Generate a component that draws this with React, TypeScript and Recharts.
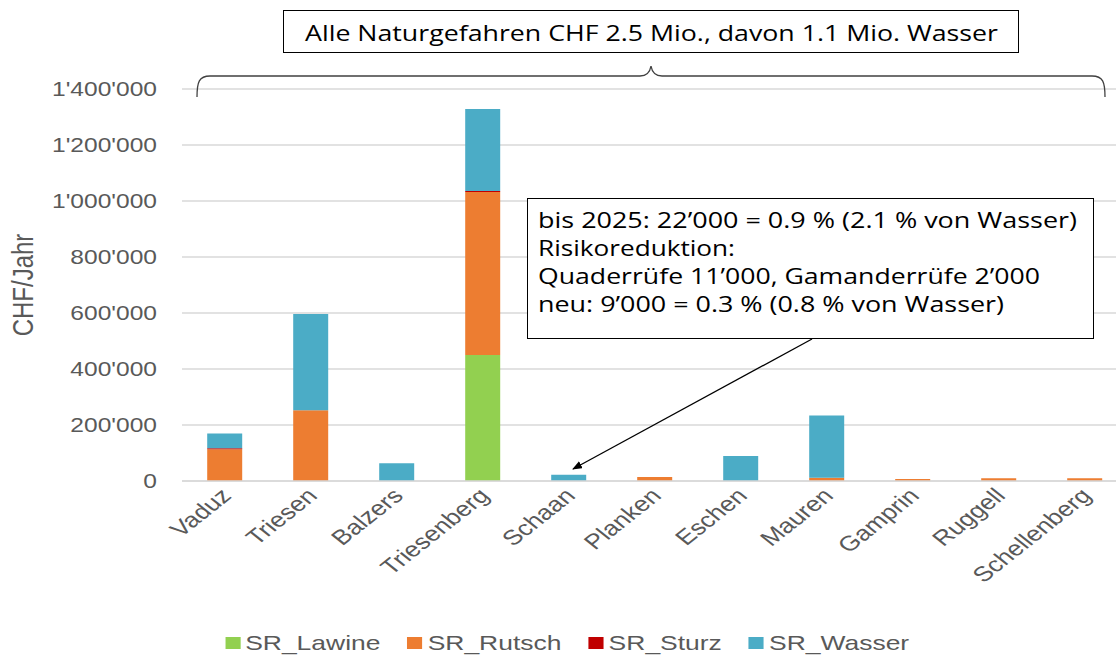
import { BarChart, Bar, XAxis, YAxis, CartesianGrid } from 'recharts';

// horizontal stretch of the original screenshot
const S = 1.26;

const gemeinden = ['Vaduz', 'Triesen', 'Balzers', 'Triesenberg', 'Schaan', 'Planken', 'Eschen', 'Mauren', 'Gamprin', 'Ruggell', 'Schellenberg'];
const srLawine = [0, 0, 0, 450000, 0, 0, 0, 0, 0, 0, 0];
const srRutsch = [113000, 253000, 0, 582000, 0, 14000, 0, 12000, 7000, 10000, 10000];
const srSturz = [4000, 0, 0, 4000, 0, 0, 0, 0, 0, 0, 0];
const srWasser = [53000, 343000, 63000, 293000, 22000, 0, 89000, 222000, 0, 0, 0];
const yTicks = [0, 200000, 400000, 600000, 800000, 1000000, 1200000, 1400000];

const series = [
  { key: 'SR_Lawine', values: srLawine, color: '#92d050' },
  { key: 'SR_Rutsch', values: srRutsch, color: '#ed7d31' },
  { key: 'SR_Sturz', values: srSturz, color: '#c00000' },
  { key: 'SR_Wasser', values: srWasser, color: '#4bacc6' },
];

const data = gemeinden.map((name, i) => {
  const row: { [k: string]: any } = { name };
  series.forEach((s) => (row[s.key] = s.values[i]));
  return row;
});

const titleText = 'Alle Naturgefahren CHF 2.5 Mio., davon 1.1 Mio. Wasser';
const noteLines = [
  'bis 2025: 22’000 = 0.9 % (2.1 % von Wasser)',
  'Risikoreduktion:',
  'Quaderrüfe 11’000, Gamanderrüfe 2’000',
  'neu: 9’000 = 0.3 % (0.8 % von Wasser)',
];
const noteWidths = [539, 197, 502, 466];

const fmt = (v: number) => String(v).replace(/\B(?=(\d{3})+(?!\d))/g, "'");

const FONT = '"Liberation Sans", Arial, sans-serif';
const NOTE_FONT = '"Open Sans", "Noto Sans", sans-serif';

// target pixel positions in the final picture
const PLOT_L = 182;
const PLOT_R = 1128;
const W = Math.ceil(1145 / S);

const XTick = ({ x, y, payload }: any) => {
  const tx = x + 6;
  const ty = y + 14;
  return (
    <text
      x={tx}
      y={ty}
      transform={`rotate(-45, ${tx}, ${ty})`}
      textAnchor="end"
      fontSize={21}
      fontFamily={FONT}
      fill="#595959"
    >
      {payload.value}
    </text>
  );
};

const App = () => {
  return (
    <div style={{ position: 'fixed', left: 0, top: 0, width: 1116, height: 657, overflow: 'hidden', background: '#fff' }}>
      <div style={{ position: 'absolute', left: 0, top: 0, width: W, height: 657, transform: `scaleX(${S})`, transformOrigin: '0 0' }}>
        <BarChart
          width={W}
          height={657}
          data={data}
          margin={{ top: 89, right: W - PLOT_R / S, bottom: 146, left: 0 }}
        >
          <CartesianGrid vertical={false} stroke="#d9d9d9" strokeWidth={1.3} />
          <XAxis
            dataKey="name"
            height={30}
            interval={0}
            tickLine={false}
            tickSize={0}
            axisLine={{ stroke: '#d9d9d9', strokeWidth: 1.3 }}
            tick={<XTick />}
          />
          <YAxis
            width={PLOT_L / S}
            domain={[0, 1400000]}
            ticks={yTicks}
            tickFormatter={fmt}
            axisLine={false}
            tickLine={false}
            tickSize={0}
            tickMargin={PLOT_L / S - 157 / S}
            tick={{ fontSize: 19.5, fill: '#595959', fontFamily: FONT }}
          />
          {series.map((s) => (
            <Bar key={s.key} dataKey={s.key} stackId="a" fill={s.color} barSize={35 / S} isAnimationActive={false} />
          ))}
        </BarChart>
        <svg width={W} height={657} style={{ position: 'absolute', left: 0, top: 0, pointerEvents: 'none' }}>
          <text
            x={0}
            y={0}
            transform={`translate(${33 / S}, 285) rotate(-90)`}
            textAnchor="middle"
            fontSize={24}
            fontFamily={FONT}
            fill="#595959"
          >
            CHF/Jahr
          </text>
        </svg>
        <div
          style={{
            position: 'absolute',
            left: 225 / S,
            top: 631,
            display: 'flex',
            alignItems: 'center',
            gap: 27 / S,
            fontFamily: FONT,
            fontSize: 21,
            color: '#595959',
            whiteSpace: 'nowrap',
          }}
        >
          {series.map((s) => (
            <div key={s.key} style={{ display: 'flex', alignItems: 'center' }}>
              <span style={{ display: 'inline-block', width: 12, height: 12, background: s.color, marginRight: 4 }} />
              <span>{s.key}</span>
            </div>
          ))}
        </div>
      </div>

      {/* annotations */}
      <svg width={1116} height={657} style={{ position: 'absolute', left: 0, top: 0, pointerEvents: 'none' }}>
        <defs>
          <marker id="arrowHead" markerWidth="10" markerHeight="8" refX="9" refY="4" orient="auto" markerUnits="userSpaceOnUse">
            <path d="M0,0 L10,4 L0,8 Z" fill="#000" />
          </marker>
        </defs>
        <rect x={283.5} y={10.5} width={735} height={42} fill="#fff" stroke="#000" strokeWidth={1} />
        <text
          x={305}
          y={41}
          fontSize={22}
          fontFamily={NOTE_FONT}
          fill="#000"
          textLength={693}
          lengthAdjust="spacingAndGlyphs"
        >
          {titleText}
        </text>
        <path
          d="M197,97 C197,82 199,76 210,76 L640,76 C647,76 650,72 651,66 C652,72 655,76 662,76 L1092,76 C1103,76 1105,82 1105,97"
          fill="none"
          stroke="#404040"
          strokeWidth={1.3}
        />
        <rect x={527.5} y={198.5} width={566} height={140} fill="#fff" stroke="#000" strokeWidth={1} />
        {noteLines.map((line, i) => (
          <text
            key={i}
            x={538}
            y={228 + i * 28}
            fontSize={22}
            fontFamily={NOTE_FONT}
            fill="#000"
            textLength={noteWidths[i]}
            lengthAdjust="spacingAndGlyphs"
          >
            {line}
          </text>
        ))}
        <line x1={812} y1={339} x2={573} y2={469} stroke="#000" strokeWidth={1.3} markerEnd="url(#arrowHead)" />
      </svg>
    </div>
  );
};

export default App;
